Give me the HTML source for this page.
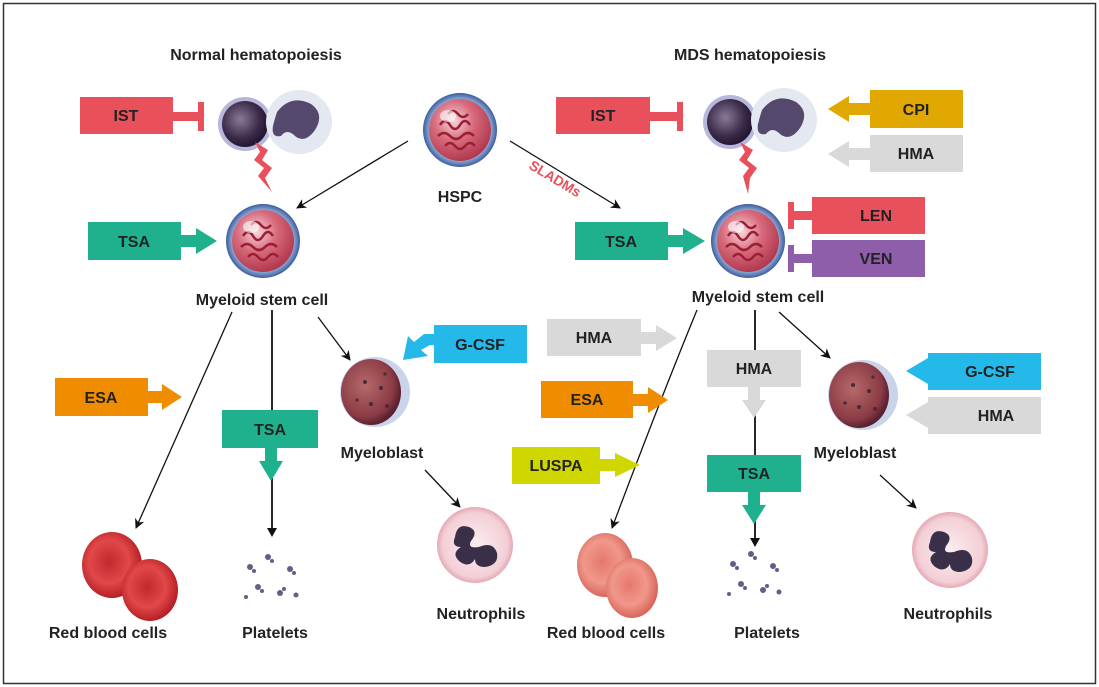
<!DOCTYPE html>
<html><head><meta charset="utf-8"><style>
html,body{margin:0;padding:0;background:#fff}
svg{display:block}
text{font-family:"Liberation Sans",sans-serif;font-weight:bold}
</style></head><body>
<svg width="1099" height="687" viewBox="0 0 1099 687" xmlns="http://www.w3.org/2000/svg">
<defs>
<radialGradient id="stem" cx="0.4" cy="0.35" r="0.65">
<stop offset="0" stop-color="#f6d6dc"/><stop offset="0.5" stop-color="#d86a7c"/><stop offset="1" stop-color="#b23a50"/></radialGradient>
<radialGradient id="ring" cx="0.5" cy="0.5" r="0.5">
<stop offset="0.8" stop-color="#9db8e0"/><stop offset="1" stop-color="#3d5c9c"/></radialGradient>
<radialGradient id="mb" cx="0.4" cy="0.4" r="0.6">
<stop offset="0" stop-color="#b56a6a"/><stop offset="0.8" stop-color="#8a3a44"/><stop offset="1" stop-color="#5a2230"/></radialGradient>
<radialGradient id="rbc" cx="0.45" cy="0.45" r="0.55">
<stop offset="0" stop-color="#c2282c"/><stop offset="0.6" stop-color="#e0484a"/><stop offset="1" stop-color="#b52024"/></radialGradient>
<radialGradient id="rbc2" cx="0.45" cy="0.45" r="0.55">
<stop offset="0" stop-color="#e6786c"/><stop offset="0.6" stop-color="#f0988a"/><stop offset="1" stop-color="#d8665c"/></radialGradient>
<radialGradient id="neu" cx="0.5" cy="0.5" r="0.5">
<stop offset="0" stop-color="#fbeef0"/><stop offset="0.85" stop-color="#f3cfd6"/><stop offset="1" stop-color="#e5a9b4"/></radialGradient>
<radialGradient id="lym" cx="0.4" cy="0.4" r="0.6">
<stop offset="0" stop-color="#8a7a9a"/><stop offset="0.7" stop-color="#3a2a48"/><stop offset="1" stop-color="#221830"/></radialGradient>
<marker id="ah" markerWidth="10" markerHeight="10" refX="9" refY="5" orient="auto" markerUnits="userSpaceOnUse"><path d="M0,0 L10,5 L0,10 L3,5 Z" fill="#111"/></marker>
<g id="stemcell"><circle r="37" fill="url(#ring)"/><circle r="31" fill="url(#stem)"/>
<path d="M-20,-5 q5,-8 10,0 t10,0 t10,0 M-22,6 q6,-6 12,0 t12,0 t12,0 M-15,16 q5,-6 10,0 t10,0 t10,0 M-12,-16 q5,-6 10,0 t10,0" stroke="#9a1e34" stroke-width="2.5" fill="none"/>
<ellipse cx="-12" cy="-14" rx="8" ry="6" fill="#fff" opacity="0.6"/></g>
<g id="myelo"><circle r="35" fill="#c9d3ea"/><ellipse cx="-4" cy="0" rx="30" ry="33" fill="url(#mb)"/>
<g fill="#4a2a3a"><circle cx="-10" cy="-10" r="2"/><circle cx="6" cy="-4" r="2"/><circle cx="-4" cy="12" r="2"/><circle cx="12" cy="14" r="2"/><circle cx="-18" cy="8" r="1.6"/><circle cx="10" cy="-18" r="1.6"/></g></g>
<g id="neutro"><circle r="38" fill="url(#neu)"/>
<path d="M-20,-8 q2,-14 14,-10 q10,4 2,14 q-4,8 8,6 q14,-6 18,6 q2,12 -12,14 q-10,0 -10,-8 q-6,10 -16,2 q-8,-8 2,-14 q-10,0 -6,-10z" fill="#3a2f48"/></g>
<g id="plate" fill="#6a5a8a"><circle cx="-22" cy="-8" r="3"/><circle cx="-18" cy="-4" r="2"/><circle cx="-4" cy="-18" r="3"/><circle cx="0" cy="-14" r="2"/><circle cx="18" cy="-6" r="3"/><circle cx="22" cy="-2" r="2"/><circle cx="-14" cy="12" r="3"/><circle cx="-10" cy="16" r="2"/><circle cx="8" cy="18" r="3"/><circle cx="12" cy="14" r="2"/><circle cx="24" cy="20" r="2.5"/><circle cx="-26" cy="22" r="2"/></g>
<g id="lymph"><circle cx="-30" cy="0" r="27" fill="#b7b6dc"/><circle cx="-30" cy="0" r="23" fill="url(#lym)"/>
<ellipse cx="24" cy="-2" rx="33" ry="32" fill="#e4e8f0"/><path d="M2,-12 q14,-18 34,-8 q14,10 4,26 q-10,14 -20,6 q-8,-8 -14,0 q-10,2 -8,-10 q2,-8 4,-14z" fill="#54486c"/></g>
</defs>

<rect x="3.5" y="3.5" width="1092" height="680" fill="#fff" stroke="#333" stroke-width="1.5"/>

<text x="256" y="60" font-size="16" text-anchor="middle" fill="#222">Normal hematopoiesis</text>
<text x="750" y="60" font-size="16" text-anchor="middle" fill="#222">MDS hematopoiesis</text>

<use href="#lymph" transform="translate(275,124)"/>
<use href="#lymph" transform="translate(760,122)"/>
<use href="#stemcell" transform="translate(460,130)"/>
<use href="#stemcell" transform="translate(263,241)"/>
<use href="#stemcell" transform="translate(748,241)"/>
<use href="#myelo" transform="translate(375,392)"/>
<use href="#myelo" transform="translate(863,395)"/>
<use href="#neutro" transform="translate(475,545)"/>
<use href="#neutro" transform="translate(950,550)"/>
<use href="#plate" transform="translate(272,575)"/>
<use href="#plate" transform="translate(755,572)"/>
<g><ellipse cx="112" cy="565" rx="30" ry="33" fill="url(#rbc)"/><ellipse cx="150" cy="590" rx="28" ry="31" fill="url(#rbc)"/></g>
<g><ellipse cx="605" cy="565" rx="28" ry="32" fill="url(#rbc2)"/><ellipse cx="632" cy="588" rx="26" ry="30" fill="url(#rbc2)"/></g>

<path d="M255,142 L268,150 L262,160 L272,168 L265,178 L272,192 L258,176 L264,168 L254,160 L260,152 Z" fill="#e8505b"/>
<path d="M740,142 L753,150 L747,160 L757,168 L750,178 L748,194 L743,176 L749,168 L739,160 L745,152 Z" fill="#e8505b"/>

<g font-size="16" fill="#222" text-anchor="middle">
<text x="460" y="202">HSPC</text>
<text x="262" y="305">Myeloid stem cell</text>
<text x="758" y="302">Myeloid stem cell</text>
<text x="382" y="458">Myeloblast</text>
<text x="855" y="458">Myeloblast</text>
<text x="481" y="619">Neutrophils</text>
<text x="948" y="619">Neutrophils</text>
<text x="108" y="638">Red blood cells</text>
<text x="606" y="638">Red blood cells</text>
<text x="275" y="638">Platelets</text>
<text x="767" y="638">Platelets</text>
</g>
<text x="0" y="0" font-size="14" fill="#e8505b" transform="translate(528,168) rotate(31)">SLADMs</text>

<g stroke="#111" stroke-width="1.3" fill="none" marker-end="url(#ah)">
<line x1="408" y1="141" x2="297" y2="208"/>
<line x1="510" y1="141" x2="620" y2="208"/>
<line x1="232" y1="312" x2="136" y2="528"/>
<line x1="318" y1="317" x2="350" y2="360"/>
<line x1="425" y1="470" x2="460" y2="507"/>
<path d="M697,310 Q660,400 612,528"/>
<line x1="779" y1="312" x2="830" y2="358"/>
<line x1="880" y1="475" x2="916" y2="508"/>
</g>
<g stroke="#111" stroke-width="1.8">
<line x1="272" y1="310" x2="272" y2="410"/>
<line x1="272" y1="470" x2="272" y2="528"/>
<line x1="755" y1="310" x2="755" y2="350"/>
<line x1="755" y1="410" x2="755" y2="455"/>
<line x1="755" y1="510" x2="755" y2="540"/>
</g>
<path d="M267,528 L272,537 L277,528 Z" fill="#111"/>
<path d="M750,538 L755,547 L760,538 Z" fill="#111"/>

<g font-size="16" fill="#222" text-anchor="middle">
<rect x="80" y="97" width="93" height="37" fill="#e8505b"/><rect x="173" y="112" width="30" height="9" fill="#e8505b"/><rect x="198" y="102" width="6" height="29" fill="#e8505b"/>
<text x="126" y="121">IST</text>
<rect x="88" y="222" width="93" height="38" fill="#1fb08e"/><rect x="181" y="235" width="16" height="12" fill="#1fb08e"/><path d="M196,228 L217,241 L196,254Z" fill="#1fb08e"/>
<text x="134" y="247">TSA</text>
<rect x="55" y="378" width="93" height="38" fill="#f08c00"/><rect x="148" y="391" width="16" height="12" fill="#f08c00"/><path d="M162,384 L182,397 L162,410Z" fill="#f08c00"/>
<text x="101" y="403">ESA</text>
<rect x="222" y="410" width="96" height="38" fill="#1fb08e"/><rect x="265" y="448" width="12" height="14" fill="#1fb08e"/><path d="M259,461 L283,461 L271,481Z" fill="#1fb08e"/>
<text x="270" y="435">TSA</text>
<rect x="434" y="325" width="93" height="38" fill="#25b9ea"/><path d="M434,334 L424,334 L414,342 L408,336 L403,360 L428,356 L421,350 L430,345 L434,345Z" fill="#25b9ea"/>
<text x="480" y="350">G-CSF</text>
<rect x="556" y="97" width="94" height="37" fill="#e8505b"/><rect x="650" y="112" width="30" height="9" fill="#e8505b"/><rect x="677" y="102" width="6" height="29" fill="#e8505b"/>
<text x="603" y="121">IST</text>
<rect x="870" y="90" width="93" height="38" fill="#e0a800"/><rect x="848" y="103" width="22" height="12" fill="#e0a800"/><path d="M849,96 L828,109 L849,122Z" fill="#e0a800"/>
<text x="916" y="115">CPI</text>
<rect x="870" y="135" width="93" height="37" fill="#d9d9d9"/><rect x="848" y="148" width="22" height="12" fill="#d9d9d9"/><path d="M849,141 L828,154 L849,167Z" fill="#d9d9d9"/>
<text x="916" y="159">HMA</text>
<rect x="812" y="197" width="113" height="37" fill="#e8505b"/><rect x="792" y="211" width="20" height="9" fill="#e8505b"/><rect x="788" y="202" width="6" height="27" fill="#e8505b"/>
<text x="876" y="221">LEN</text>
<rect x="812" y="240" width="113" height="37" fill="#8e5eaa"/><rect x="792" y="254" width="20" height="9" fill="#8e5eaa"/><rect x="788" y="245" width="6" height="27" fill="#8e5eaa"/>
<text x="876" y="264">VEN</text>
<rect x="575" y="222" width="93" height="38" fill="#1fb08e"/><rect x="668" y="235" width="16" height="12" fill="#1fb08e"/><path d="M683,228 L705,241 L683,254Z" fill="#1fb08e"/>
<text x="621" y="247">TSA</text>
<rect x="547" y="319" width="94" height="37" fill="#d9d9d9"/><rect x="641" y="332" width="16" height="12" fill="#d9d9d9"/><path d="M656,325 L677,338 L656,351Z" fill="#d9d9d9"/>
<text x="594" y="343">HMA</text>
<rect x="541" y="381" width="92" height="37" fill="#f08c00"/><rect x="633" y="394" width="16" height="12" fill="#f08c00"/><path d="M648,387 L668,400 L648,413Z" fill="#f08c00"/>
<text x="587" y="405">ESA</text>
<rect x="512" y="447" width="88" height="37" fill="#cfd600"/><rect x="600" y="459" width="16" height="12" fill="#cfd600"/><path d="M615,453 L640,465 L615,477Z" fill="#cfd600"/>
<text x="556" y="471">LUSPA</text>
<rect x="707" y="350" width="94" height="37" fill="#d9d9d9"/><rect x="748" y="387" width="12" height="14" fill="#d9d9d9"/><path d="M742,400 L766,400 L754,418Z" fill="#d9d9d9"/>
<text x="754" y="374">HMA</text>
<rect x="707" y="455" width="94" height="37" fill="#1fb08e"/><rect x="748" y="492" width="12" height="14" fill="#1fb08e"/><path d="M742,505 L766,505 L754,524Z" fill="#1fb08e"/>
<text x="754" y="479">TSA</text>
<rect x="928" y="353" width="113" height="37" fill="#25b9ea"/><rect x="925" y="365" width="5" height="12" fill="#25b9ea"/><path d="M928,358 L906,371 L928,384Z" fill="#25b9ea"/>
<text x="990" y="377">G-CSF</text>
<rect x="928" y="397" width="113" height="37" fill="#d9d9d9"/><path d="M928,402 L906,415 L928,428Z" fill="#d9d9d9"/>
<text x="996" y="421">HMA</text>
</g>
</svg>
</body></html>
